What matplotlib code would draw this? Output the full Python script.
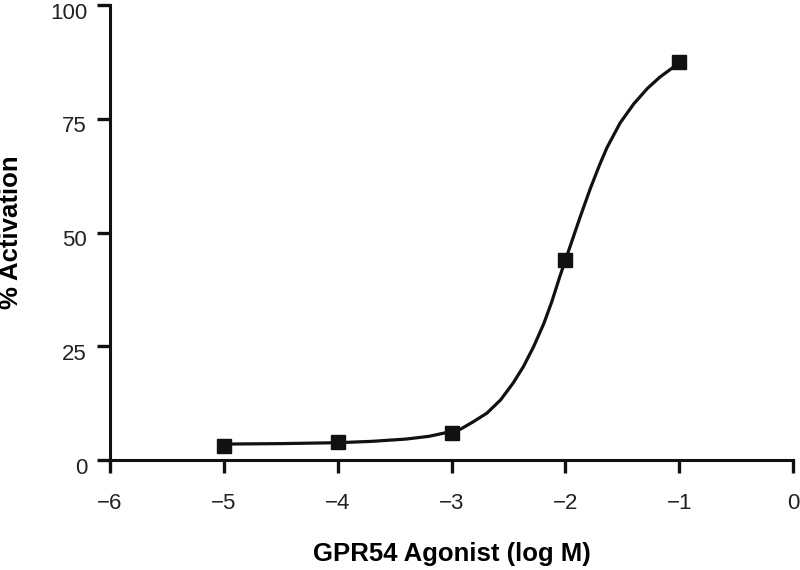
import numpy as np
import matplotlib
matplotlib.use('Agg')
import matplotlib.pyplot as plt
import matplotlib.transforms as mtransforms

plt.rcParams['font.family'] = ['Liberation Sans', 'DejaVu Sans']

# Measured points (log M, % activation).
dose_log = [-5, -4, -3, -2, -1]
activation = [3.1, 4.0, 5.9, 44.0, 87.5]

# Fitted curve.
curve_x = [-5.0, -4.5, -4.0, -3.7, -3.4, -3.2, -3.05, -2.92, -2.81, -2.69,
           -2.57, -2.46, -2.37, -2.28, -2.19, -2.12, -2.05, -1.96, -1.87, -1.78,
           -1.70, -1.635, -1.52, -1.40, -1.28, -1.17, -1.05, -1.0]
curve_y = [3.5, 3.6, 3.8, 4.1, 4.6, 5.2, 6.0, 6.8, 8.4, 10.3,
           13.2, 16.9, 20.5, 24.9, 30.0, 34.8, 40.3, 46.9, 53.5, 59.8,
           64.9, 68.7, 74.1, 78.3, 81.7, 84.2, 86.4, 87.0]

x_ticks = [-6, -5, -4, -3, -2, -1, 0]
y_ticks = [0, 25, 50, 75, 100]

fig = plt.figure(figsize=(8, 5.7), dpi=100)
ax = fig.add_axes([0.1375, 0.193, 0.854, 0.798])

ax.plot(curve_x, curve_y, color="#111111", lw=2.3,
        solid_capstyle="round", solid_joinstyle="round", zorder=2)
ax.plot(dose_log, activation, ls="none", marker="s", ms=10, color="#111111", zorder=3)

ax.set_xlim(-6, 0)
ax.set_ylim(0, 100)
ax.set_xticks(x_ticks)
ax.set_yticks(y_ticks)

for side in ["top", "right"]:
    ax.spines[side].set_visible(False)
for side in ["left", "bottom"]:
    ax.spines[side].set_linewidth(2.2)
    ax.spines[side].set_color("#111111")

ax.tick_params(axis="both", direction="out", length=9.5, width=2.4,
               color="#111111", labelsize=16, labelcolor="#222222")
ax.tick_params(axis="x", pad=14)
ax.tick_params(axis="y", pad=7)

# y tick labels sit a little below their ticks in the original
shift = mtransforms.ScaledTranslation(0, -4 / 72, fig.dpi_scale_trans)
for lbl in ax.get_yticklabels():
    lbl.set_transform(lbl.get_transform() + shift)

ax.set_xlabel("GPR54 Agonist (log M)", fontsize=18.5, fontweight="bold")
ax.xaxis.set_label_coords(0.5, -0.18)
ax.set_ylabel("% Activation", fontsize=18.5, fontweight="bold")
ax.yaxis.set_label_coords(-0.128, 0.5)

fig.savefig("out.png", dpi=100)
